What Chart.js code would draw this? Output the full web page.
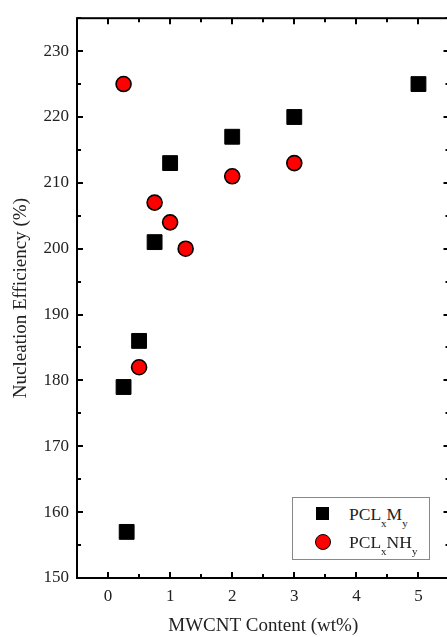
<!DOCTYPE html>
<html>
<head>
<meta charset="utf-8">
<script src="https://cdn.jsdelivr.net/npm/chart.js@4.4.1/dist/chart.umd.min.js"></script>
<style>
  html, body { margin: 0; padding: 0; background: #fff; overflow: hidden; }
  #wrap { position: relative; width: 480px; height: 637px; }
  #chart { display: block; }
  #legend {
    position: absolute; left: 292px; top: 497px; width: 136px; height: 61px;
    border: 1px solid #888; background: #fff;
    font-family: "Liberation Serif", "Times New Roman", serif; font-size: 17.5px; color: #222;
  }
  .row { position: absolute; left: 0; height: 24px; line-height: 24px; }
  .mk { position: absolute; box-sizing: border-box; }
  .lbl { position: absolute; left: 56px; white-space: nowrap; }
  .lbl sub { font-size: 11px; vertical-align: -7px; }
</style>
</head>
<body>
<div id="wrap">
  <canvas id="chart" width="450" height="637"></canvas>
  <div id="legend"></div>
</div>
<script>
// PCLxMy series (black squares)
const mwcntM = [0.3, 0.25, 0.5, 0.75, 1, 2, 3, 5];
const effM   = [157, 179, 186, 201, 213, 217, 220, 225];

// PCLxNHy series (red circles)
const mwcntNH = [0.25, 0.5, 0.75, 1, 1.25, 2, 3];
const effNH   = [225, 182, 207, 204, 200, 211, 213];

// legend names, split as [base, sub, base, sub]
const nameM  = ["PCL", "x", "M", "y"];
const nameNH = ["PCL", "x", "NH", "y"];

const xTicks = [0, 1, 2, 3, 4, 5];
const yTicks = [150, 160, 170, 180, 190, 200, 210, 220, 230];

const serif = "'Liberation Serif', 'Times New Roman', serif";

// right edge of the plot frame sits just past the window edge (447)
const targetRight = 449;

function toPoints(xs, ys) {
  return xs.map((x, i) => ({ x: x, y: ys[i] }));
}

// frame + inward ticks on all four sides, like the Origin plot
const framePlugin = {
  id: "frame",
  afterDraw(chart) {
    const { ctx, chartArea: a, scales } = chart;
    ctx.save();
    ctx.strokeStyle = "#000";
    ctx.lineWidth = 2;
    ctx.strokeRect(a.left, a.top, a.right - a.left, a.bottom - a.top);

    const major = 6, minor = 4;
    ctx.beginPath();
    // x ticks (bottom and top)
    for (let v = -0.5; v <= 5.5; v += 0.5) {
      const px = Math.round(scales.x.getPixelForValue(v));
      const len = Number.isInteger(v) ? major : minor;
      ctx.moveTo(px, a.bottom); ctx.lineTo(px, a.bottom - len);
      ctx.moveTo(px, a.top); ctx.lineTo(px, a.top + len);
    }
    // y ticks (left and right)
    for (let v = 150; v <= 235; v += 5) {
      const py = Math.round(scales.y.getPixelForValue(v));
      const len = v % 10 === 0 ? major : minor;
      ctx.moveTo(a.left, py); ctx.lineTo(a.left + len, py);
      ctx.moveTo(a.right, py); ctx.lineTo(a.right - len, py);
    }
    ctx.stroke();
    ctx.restore();
  }
};

const chart = new Chart(document.getElementById("chart"), {
  type: "scatter",
  data: {
    datasets: [
      {
        label: nameM.join(""),
        data: toPoints(mwcntM, effM),
        pointStyle: "rect",
        pointRadius: 10.5,
        backgroundColor: "#000",
        borderColor: "#000",
        borderWidth: 1
      },
      {
        label: nameNH.join(""),
        data: toPoints(mwcntNH, effNH),
        pointStyle: "circle",
        pointRadius: 7.5,
        backgroundColor: "#f00",
        borderColor: "#000",
        borderWidth: 1.6
      }
    ]
  },
  plugins: [framePlugin],
  options: {
    responsive: false,
    maintainAspectRatio: false,
    animation: false,
    layout: { padding: { top: 14, right: 1, left: 0, bottom: 0 } },
    plugins: { legend: { display: false }, tooltip: { enabled: false } },
    scales: {
      x: {
        type: "linear",
        min: -0.5,
        max: 5.5,
        afterFit(scale) { scale.height = 59; },
        afterBuildTicks(scale) { scale.ticks = xTicks.map((v) => ({ value: v })); },
        grid: { display: false, drawTicks: false },
        border: { display: false },
        ticks: { padding: 8, color: "#222", font: { family: serif, size: 17 } },
        title: {
          display: true,
          text: "MWCNT Content (wt%)",
          color: "#222",
          font: { family: serif, size: 19 },
          padding: { top: 0, bottom: 0 }
        }
      },
      y: {
        type: "linear",
        min: 150,
        max: 235,
        afterFit(scale) { scale.width = 77; },
        afterBuildTicks(scale) { scale.ticks = yTicks.map((v) => ({ value: v })); },
        grid: { display: false, drawTicks: false },
        border: { display: false },
        ticks: { padding: 8, color: "#222", font: { family: serif, size: 17 } },
        title: {
          display: true,
          text: "Nucleation Efficiency (%)",
          color: "#222",
          font: { family: serif, size: 19 },
          padding: { top: 10, bottom: 0 }
        }
      }
    }
  }
});

// the x scale reserves some label padding on the right; widen the canvas to
// push the frame out to where the reference has it
const deficit = targetRight - chart.chartArea.right;
if (Math.abs(deficit) > 0.5) {
  chart.resize(Math.round(chart.width + deficit), 637);
}

// HTML legend inside the plot, built from the dataset styles
function buildLegend() {
  const box = document.getElementById("legend");
  const names = [nameM, nameNH];
  chart.data.datasets.forEach((ds, i) => {
    const row = document.createElement("div");
    row.className = "row";
    row.style.top = (4 + i * 28) + "px";
    row.style.width = "100%";
    const mk = document.createElement("div");
    mk.className = "mk";
    if (ds.pointStyle === "rect") {
      mk.style.cssText = "left:23px;top:5px;width:13px;height:13px;background:" + ds.backgroundColor;
    } else {
      mk.style.cssText = "left:22px;top:4px;width:16px;height:16px;border-radius:50%;border:1.6px solid #000;background:" + ds.backgroundColor;
    }
    const lbl = document.createElement("div");
    lbl.className = "lbl";
    const n = names[i];
    lbl.innerHTML = n[0] + "<sub>" + n[1] + "</sub>" + n[2] + "<sub>" + n[3] + "</sub>";
    row.appendChild(mk);
    row.appendChild(lbl);
    box.appendChild(row);
  });
}
buildLegend();
</script>
</body>
</html>
